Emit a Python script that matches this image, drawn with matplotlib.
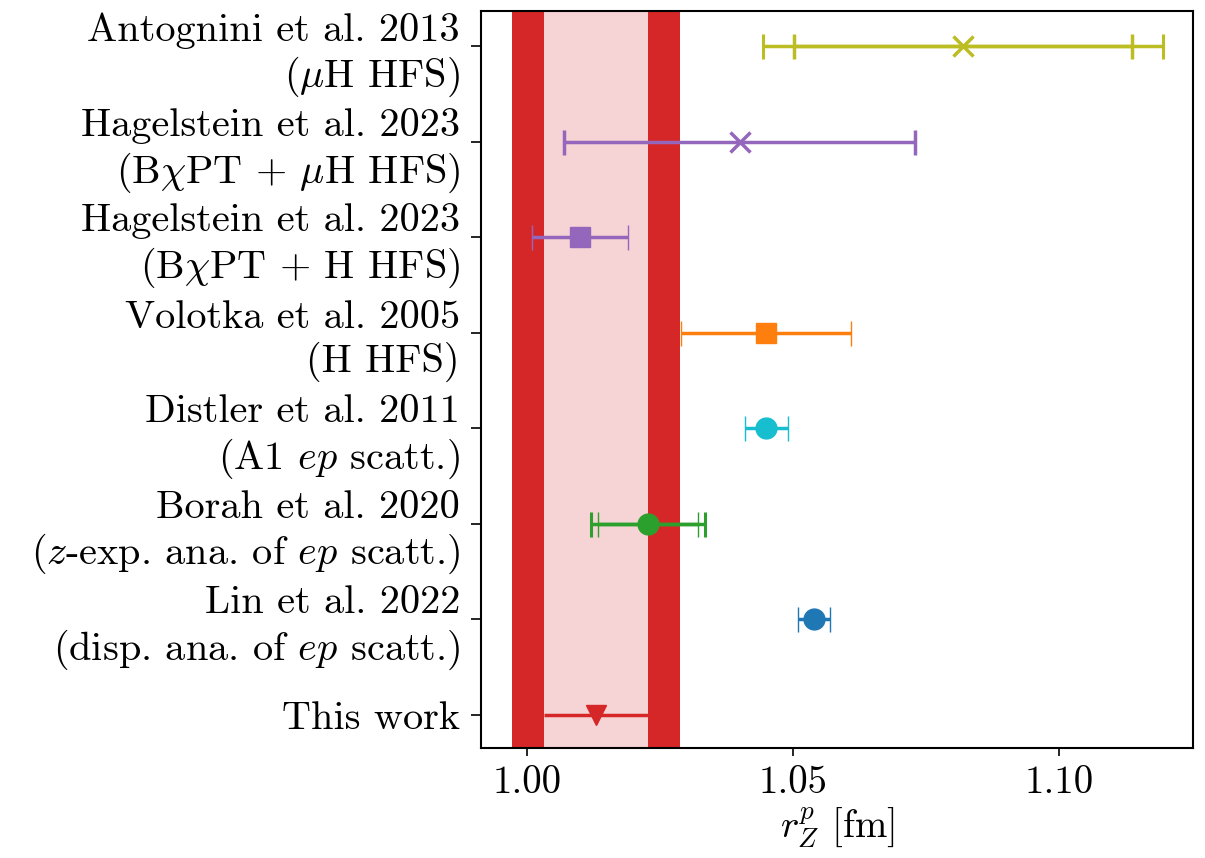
import matplotlib
matplotlib.use("Agg")
import matplotlib.pyplot as plt

plt.rcParams['font.family'] = 'serif'
plt.rcParams['font.serif'] = ['cmr10']
plt.rcParams['mathtext.fontset'] = 'cm'
plt.rcParams['axes.formatter.use_mathtext'] = True

labels = [
    "This work",
    "Lin et al. 2022\n(disp. ana. of $ep$ scatt.)",
    "Borah et al. 2020\n($z$-exp. ana. of $ep$ scatt.)",
    "Distler et al. 2011\n(A1 $ep$ scatt.)",
    "Volotka et al. 2005\n(H HFS)",
    "Hagelstein et al. 2023\n(B$\\chi$PT + H HFS)",
    "Hagelstein et al. 2023\n(B$\\chi$PT + $\\mu$H HFS)",
    "Antognini et al. 2013\n($\\mu$H HFS)",
]
values = [1.013, 1.054, 1.0227, 1.045, 1.045, 1.010, 1.040, 1.082]
err_inner = [0.0098, 0.003, 0.0094, 0.004, 0.016, 0.009, 0.033, 0.0317]
err_outer = [0.0158, None, 0.0107, None, None, None, None, 0.0376]
colors = ['tab:red', 'tab:blue', 'tab:green', 'tab:cyan', 'tab:orange',
          'tab:purple', 'tab:purple', 'tab:olive']
markers = ['v', 'o', 'o', 'o', 's', 's', 'x', 'x']

fig = plt.figure(figsize=(12.05, 8.58), dpi=100)
ax = fig.add_axes([0.399, 0.128, 0.591, 0.859])

# band for this work
c0, ei, eo = values[0], err_inner[0], err_outer[0]
ax.axvspan(c0 - eo, c0 - ei, color='tab:red', lw=0, zorder=0)
ax.axvspan(c0 + ei, c0 + eo, color='tab:red', lw=0, zorder=0)
ax.axvspan(c0 - ei, c0 + ei, color='tab:red', alpha=0.2, lw=0, zorder=0)

for i, (v, e1, e2, c, m) in enumerate(zip(values, err_inner, err_outer, colors, markers)):
    ms = 15 if m != 'x' else 15
    mew = 2.5 if m == 'x' else 1
    if i == 0:
        ax.errorbar(v, i, xerr=e1, fmt=m, color=c, ms=ms, lw=2.5, capsize=0, zorder=3)
        continue
    if e2 is not None:
        ax.errorbar(v, i, xerr=e2, fmt='none', ecolor=c, lw=2.5, capsize=9, capthick=2.2, zorder=3)
    ax.errorbar(v, i, xerr=e1, fmt=m, color=c, ms=ms, mew=mew, lw=2.5, capsize=9,
                capthick=2.2, zorder=4)

ax.set_yticks(range(len(labels)))
ax.set_yticklabels(labels, fontsize=29)
ax.set_ylim(-0.35, 7.37)
ax.set_xlim(0.99135, 1.1252)
ax.set_xticks([1.00, 1.05, 1.10])
ax.set_xticklabels(['1.00', '1.05', '1.10'])
ax.tick_params(axis='x', labelsize=28, length=6, width=1.2, pad=6)
ax.tick_params(axis='y', length=7, width=1.2, pad=8)
ax.set_xlabel(r'$r_Z^p$ [fm]', fontsize=28, labelpad=4)
for s in ax.spines.values():
    s.set_linewidth(1.5)

fig.savefig('out.png', dpi=100)
